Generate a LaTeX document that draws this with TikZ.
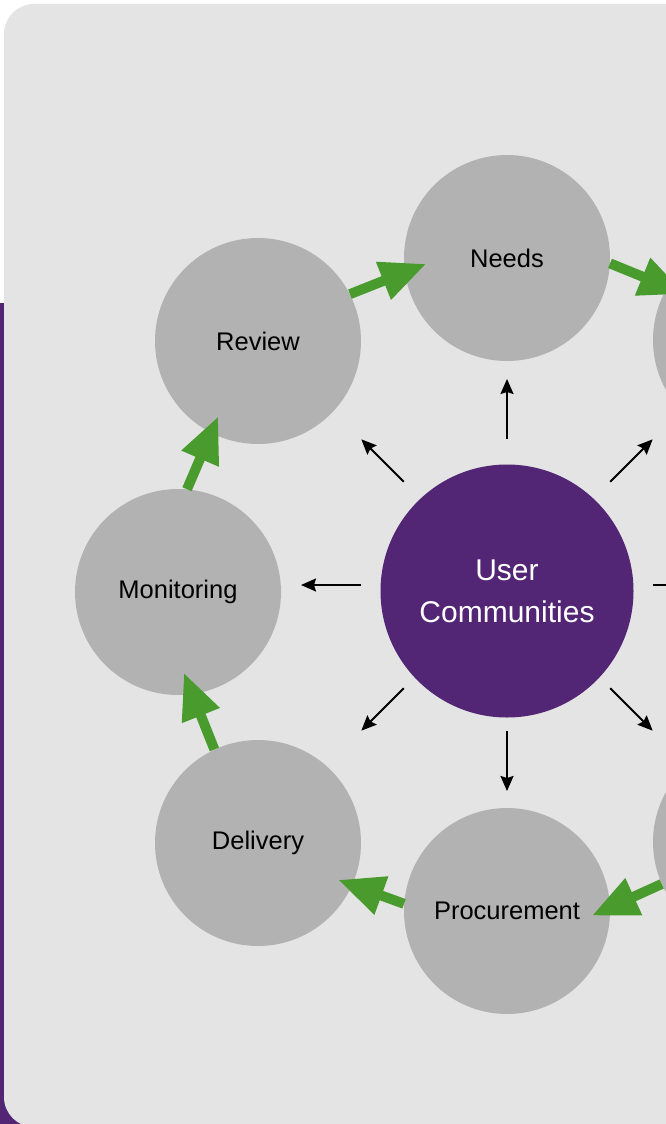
\documentclass[tikz,border=0pt]{standalone}
\usepackage{fontspec}
\setmainfont{Liberation Sans}
\usetikzlibrary{arrows.meta}
\definecolor{cyclepurple}{RGB}{82,38,116}
\definecolor{cyclegreen}{RGB}{73,155,45}
\definecolor{cyclegrey}{RGB}{178,178,178}
\definecolor{cyclepanel}{RGB}{228,228,228}

\begin{document}
\begin{tikzpicture}[x=1pt, y=-1pt,
  stage/.style={circle, fill=cyclegrey, minimum size=206pt, inner sep=0pt, font=\fontsize{25.5}{30}\selectfont},
  hubnode/.style={circle, fill=cyclepurple, minimum size=253pt, inner sep=0pt, text=white, align=center, font=\fontsize{30}{42}\selectfont},
  flow/.style={cyclegreen, line width=10pt, -{Triangle[length=46pt,width=38pt]}},
  spoke/.style={black, line width=2pt, -{Stealth[length=15pt,width=13pt,inset=2pt]}}]
\useasboundingbox (0,0) rectangle (666,1124);
\clip (0,0) rectangle (666,1124);
% background and panel
\fill[white] (0,0) rectangle (666,1124);
\fill[cyclepurple] (0,303) rectangle (666,1124);
\fill[cyclepanel, rounded corners=30pt] (4,4) rectangle (740,1127);
% stages
\node[hubnode] (users) at (507,591) {User\\Communities};
\node[stage] (needs) at (507,258) {Needs};
\node[stage] (rtop) at (756,340) {};
\node[stage] (rbot) at (756,842) {};
\node[stage] (procurement) at (507,911) {Procurement};
\node[stage] (delivery) at (258,843) {Delivery};
\node[stage] (monitoring) at (178,592) {Monitoring};
\node[stage] (review) at (258,341) {Review};
% cycle
\draw[flow, shorten >=-23pt] (review.27) -- (needs.188);
\draw[flow, shorten >=-19pt] (needs.-3) -- (rtop.149);
\draw[flow, shorten >=-20pt] (rbot.204) -- (procurement.2);
\draw[flow, shorten >=-15pt] (procurement.176) -- (delivery.-24);
\draw[flow, shorten >=-23pt] (delivery.115) -- (monitoring.-82);
\draw[flow, shorten >=-18pt] (monitoring.85) -- (review.243);
% spokes
\coordinate (hub) at (507,585);
\foreach \a in {0,45,...,315}
  \draw[spoke, shorten <=146pt] (hub) -- ++(\a:206pt);
\end{tikzpicture}
\end{document}
